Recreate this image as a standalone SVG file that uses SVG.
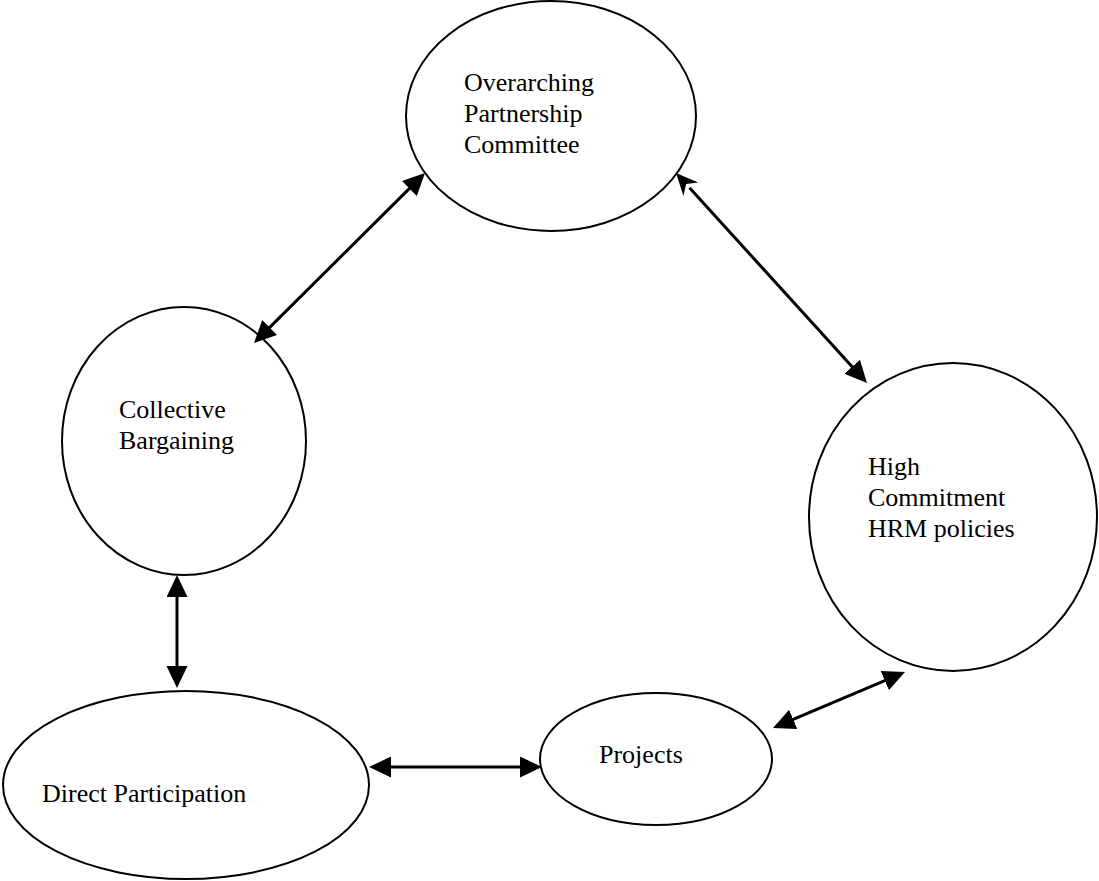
<svg xmlns="http://www.w3.org/2000/svg" width="1099" height="881" viewBox="0 0 1099 881">
<style>
.node{fill:#fff;stroke:#000;stroke-width:2}
.lbl{font-family:"Liberation Serif","Times New Roman",serif;font-size:26px;fill:#000}
.conn{stroke:#000;stroke-width:3;fill:none}
</style>
<defs>
<marker id="tri" markerUnits="userSpaceOnUse" markerWidth="24" markerHeight="22" refX="2" refY="10.5" orient="auto-start-reverse" viewBox="0 0 24 22">
<path d="M0,0 L22,10.5 L0,21 z" fill="#000"/>
</marker>
<marker id="stealth" markerUnits="userSpaceOnUse" markerWidth="24" markerHeight="22" refX="2" refY="10.5" orient="auto-start-reverse" viewBox="0 0 24 22">
<path d="M0,0.5 L22,10.5 L0,20.5 L7,10.5 z" fill="#000"/>
</marker>
</defs>
<rect width="1099" height="881" fill="#fff"/>
<g id="overarching">
<ellipse class="node" cx="551" cy="116" rx="145" ry="115"/>
<text class="lbl" x="464" y="91">Overarching</text>
<text class="lbl" x="464" y="122">Partnership</text>
<text class="lbl" x="464" y="153">Committee</text>
</g>
<g id="collective">
<ellipse class="node" cx="184" cy="441" rx="122" ry="134"/>
<text class="lbl" x="119" y="418">Collective</text>
<text class="lbl" x="119" y="449">Bargaining</text>
</g>
<g id="highcommitment">
<ellipse class="node" cx="953" cy="517" rx="144" ry="154"/>
<text class="lbl" x="868" y="475">High</text>
<text class="lbl" x="868" y="506">Commitment</text>
<text class="lbl" x="868" y="537">HRM policies</text>
</g>
<g id="projects">
<ellipse class="node" cx="656" cy="759" rx="116" ry="66"/>
<text class="lbl" x="599" y="763">Projects</text>
</g>
<g id="direct">
<ellipse class="node" cx="186" cy="785" rx="183" ry="94"/>
<text class="lbl" x="42" y="802">Direct Participation</text>
</g>
<g id="connectors">
<line class="conn" x1="410.8" y1="187.1" x2="268.2" y2="328.9" marker-start="url(#tri)" marker-end="url(#tri)"/>
<line class="conn" x1="689.5" y1="187.8" x2="853.5" y2="368.2" stroke-width="2.5" marker-start="url(#stealth)" marker-end="url(#tri)"/>
<line class="conn" x1="177" y1="595" x2="177" y2="668" marker-start="url(#tri)" marker-end="url(#tri)"/>
<line class="conn" x1="389" y1="767" x2="522" y2="767" marker-start="url(#tri)" marker-end="url(#tri)"/>
<line class="conn" x1="791.4" y1="720.2" x2="886.6" y2="679.8" marker-start="url(#tri)" marker-end="url(#tri)"/>
</g>
</svg>
